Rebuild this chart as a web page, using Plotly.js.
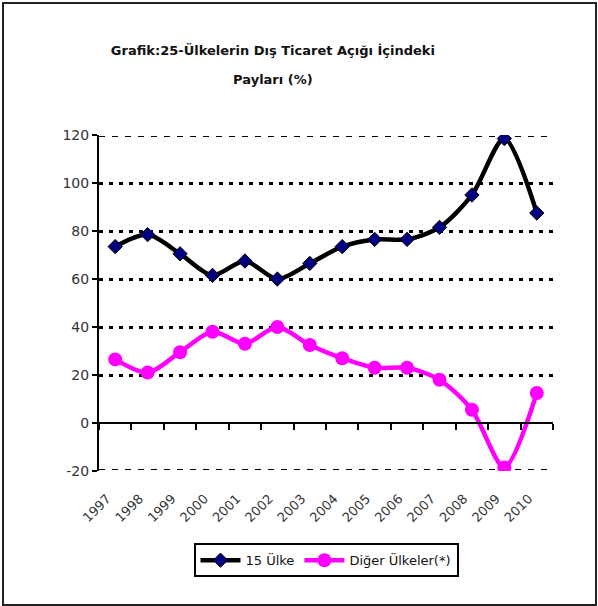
<!DOCTYPE html>
<html>
<head>
<meta charset="utf-8">
<script src="https://cdn.plot.ly/plotly-3.0.1.min.js"></script>
<style>
  html, body { margin: 0; padding: 0; background: #fff; }
  #wrap { position: absolute; left: 2px; top: 2px; width: 591px; height: 600px; border: 2px solid #222; }
  #chart { width: 591px; height: 600px; }
</style>
</head>
<body>
<div id="wrap"><div id="chart"></div></div>
<script>
const years = ["1997","1998","1999","2000","2001","2002","2003","2004","2005","2006","2007","2008","2009","2010"];
const ulke15 = [73.5, 78.5, 70.5, 61.5, 67.5, 60, 66.5, 73.5, 76.5, 76.5, 81.5, 95, 118.5, 87.5];
const diger = [26.5, 21, 29.5, 38, 33, 40, 32.5, 27, 23, 23, 18, 5.5, -18.5, 12.5];
const yTicks = [-20, 0, 20, 40, 60, 80, 100, 120];
const yTickText = ["-20", "0", "20", "40", "60", "80", "100", "120"];
const innerGrid = [20, 40, 60, 80, 100];
const edgeGrid = [-20, 120];

const FONT = "DejaVu Sans, Arial, sans-serif";
const idx = years.map((_, i) => i);

const traces = [
  {
    x: years, y: ulke15, name: "15 Ülke", type: "scatter", mode: "lines+markers",
    line: { color: "#000000", width: 4.5, shape: "spline", smoothing: 0.8 },
    marker: { symbol: "diamond", size: 11, color: "#000080", line: { color: "#000000", width: 1 } },
    xaxis: "x", yaxis: "y"
  },
  {
    x: years, y: diger, name: "Diğer Ülkeler(*)", type: "scatter", mode: "lines+markers",
    line: { color: "#FF00FF", width: 4.5, shape: "spline", smoothing: 0.8 },
    marker: { symbol: "circle", size: 14, color: "#FF00FF" },
    xaxis: "x", yaxis: "y"
  },
  // invisible helpers so the overlay axes (labels / grid styles) are drawn
  {
    x: idx, y: ulke15, type: "scatter", mode: "markers", marker: { opacity: 0, size: 1 },
    showlegend: false, hoverinfo: "skip", xaxis: "x2", yaxis: "y2"
  },
  {
    x: idx, y: diger, type: "scatter", mode: "markers", marker: { opacity: 0, size: 1 },
    showlegend: false, hoverinfo: "skip", xaxis: "x2", yaxis: "y3"
  }
];

const yr = [-20, 120];
const layout = {
  width: 591, height: 600,
  margin: { l: 95, r: 42, t: 131, b: 133 },
  paper_bgcolor: "#ffffff", plot_bgcolor: "rgba(0,0,0,0)",
  font: { family: FONT, color: "#333333", size: 13 },
  title: {
    text: "<b>Grafik:25-Ülkelerin Dış Ticaret Açığı İçindeki</b>",
    font: { family: FONT, size: 13, color: "#111111" },
    x: 0.455, xref: "container", xanchor: "center",
    y: 0.922, yref: "container", yanchor: "middle",
    subtitle: { text: "<b>Payları (%)</b>", font: { family: FONT, size: 13, color: "#111111" } }
  },
  showlegend: true,
  legend: {
    orientation: "h", x: 0.5, xanchor: "center", xref: "paper",
    y: -0.215, yanchor: "top",
    bordercolor: "#000000", borderwidth: 2, bgcolor: "#ffffff",
    font: { family: FONT, size: 13, color: "#111111" },
    itemwidth: 40
  },
  xaxis: {
    type: "category", range: [-0.5, 13.5],
    anchor: "free", position: 20 / 140,
    showline: true, linecolor: "#000000", linewidth: 2,
    ticks: "outside", ticklen: 6, tickwidth: 2, tickcolor: "#000000",
    tickson: "boundaries",
    showticklabels: false, showgrid: false, zeroline: false,
    fixedrange: true
  },
  xaxis2: {
    type: "linear", range: [-0.5, 13.5], overlaying: "x", anchor: "y", side: "bottom",
    tickmode: "array", tickvals: idx.map(i => i - 0.25), ticktext: years,
    tickangle: -45, ticks: "outside", ticklen: 14, tickcolor: "rgba(0,0,0,0)",
    showline: false, showgrid: false, zeroline: false,
    tickfont: { family: FONT, size: 13, color: "#333333" }
  },
  yaxis: {
    range: yr, tickmode: "array", tickvals: yTicks, ticktext: yTickText,
    showline: true, linecolor: "#000000", linewidth: 2,
    ticks: "outside", ticklen: 5, tickwidth: 2, tickcolor: "#000000",
    showgrid: false, zeroline: false,
    tickfont: { family: FONT, size: 14, color: "#333333" }
  },
  yaxis2: {
    range: yr, overlaying: "y", anchor: "x", tickmode: "array", tickvals: innerGrid,
    showticklabels: false, ticks: "", showline: false, zeroline: false,
    showgrid: true, gridcolor: "#000000", gridwidth: 3, griddash: "4px,6px"
  },
  yaxis3: {
    range: [-20.6, 120.6], overlaying: "y", anchor: "x", tickmode: "array", tickvals: edgeGrid,
    showticklabels: false, ticks: "", showline: false, zeroline: false,
    showgrid: true, gridcolor: "#000000", gridwidth: 1.2, griddash: "6px,7px"
  }
};

Plotly.newPlot("chart", traces, layout, { displayModeBar: false, staticPlot: true });
</script>
</body>
</html>
